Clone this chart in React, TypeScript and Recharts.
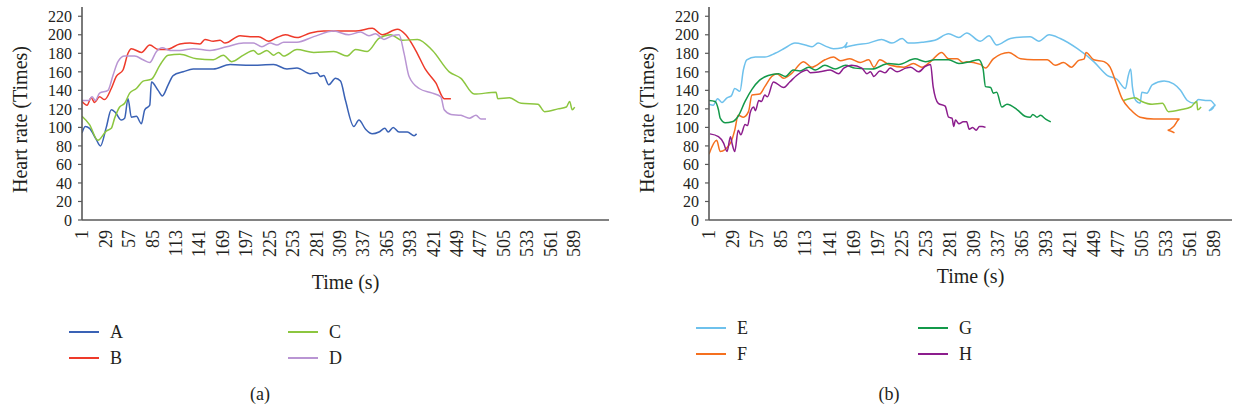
import React from "react";
import { LineChart, Line, XAxis, YAxis } from "recharts";

// shared axis ticks
const xTicks = [1, 29, 57, 85, 113, 141, 169, 197, 225, 253, 281, 309, 337, 365, 393, 421, 449, 477, 505, 533, 561, 589];
const yTicks = [0, 20, 40, 60, 80, 100, 120, 140, 160, 180, 200, 220];

// panel (a) readings: [time, heart rate]
const seriesA = [
  [1, 94], [5, 101], [10, 99], [18, 87], [23, 80], [30, 100], [36, 119], [41, 116], [48, 108], [52, 110],
  [56, 131], [60, 111], [66, 112], [72, 104], [76, 119], [82, 124], [84, 149], [92, 140], [97, 134], [104, 146],
  [110, 156], [122, 160], [134, 163], [158, 163], [178, 168], [202, 167], [230, 168], [246, 163], [258, 164],
  [274, 158], [282, 159], [286, 155], [290, 156], [296, 146], [304, 153], [310, 150], [316, 129], [326, 101],
  [332, 108], [340, 98], [348, 93], [356, 95], [363, 99], [367, 95], [373, 100], [380, 95], [390, 95], [398, 91], [401, 93],
];
const seriesB = [
  [1, 128], [7, 124], [12, 132], [16, 127], [22, 133], [28, 130], [36, 142], [42, 155], [50, 162], [56, 180],
  [60, 185], [72, 181], [82, 189], [92, 184], [102, 184], [118, 190], [130, 191], [142, 190], [148, 195], [158, 193],
  [166, 194], [172, 191], [190, 199], [202, 198], [212, 198], [224, 193], [234, 197], [244, 200], [258, 197],
  [274, 202], [290, 204], [314, 204], [328, 204], [348, 207], [360, 200], [378, 206], [388, 200], [400, 183],
  [412, 162], [424, 148], [434, 131], [442, 131],
];
const seriesC = [
  [1, 112], [10, 103], [20, 86], [30, 96], [36, 99], [40, 110], [46, 122], [52, 126], [58, 137], [66, 142],
  [74, 150], [84, 152], [94, 167], [104, 178], [118, 179], [138, 174], [158, 173], [170, 178], [180, 171],
  [194, 178], [206, 183], [212, 179], [222, 183], [230, 178], [236, 181], [242, 177], [258, 184], [278, 181],
  [302, 182], [318, 177], [328, 184], [342, 182], [356, 196], [370, 200], [384, 194], [402, 195], [420, 183],
  [440, 160], [454, 153], [470, 136], [496, 138], [498, 131], [512, 132], [526, 126], [546, 125], [554, 117],
  [570, 120], [580, 122], [584, 128], [587, 119], [590, 122],
];
const seriesD = [
  [1, 129], [9, 129], [13, 133], [17, 129], [22, 137], [32, 140], [38, 156], [44, 171], [52, 177], [64, 177],
  [74, 173], [82, 170], [90, 182], [97, 186], [106, 183], [118, 183], [134, 185], [154, 183], [174, 187],
  [194, 191], [206, 191], [216, 187], [226, 191], [234, 189], [242, 192], [258, 192], [278, 198], [302, 204],
  [320, 200], [334, 203], [344, 199], [352, 201], [362, 195], [372, 199], [380, 200], [386, 180], [392, 155],
  [404, 142], [420, 137], [430, 133], [434, 119], [442, 114], [454, 113], [464, 110], [472, 113], [478, 109], [484, 109],
];

// panel (b) readings
const seriesE = [
  [1, 125], [6, 124], [11, 131], [16, 127], [22, 132], [27, 134], [31, 142], [37, 139], [41, 162], [45, 173],
  [55, 176], [66, 176], [78, 180], [90, 186], [101, 191], [113, 189], [121, 187], [128, 191], [136, 188],
  [146, 185], [156, 186], [162, 192], [159, 186], [171, 189], [187, 191], [202, 195], [214, 191], [226, 196],
  [233, 191], [249, 192], [264, 194], [280, 201], [292, 197], [301, 202], [317, 193], [327, 199], [336, 189],
  [352, 196], [375, 198], [385, 193], [397, 200], [410, 196], [430, 185], [449, 171], [465, 156], [476, 152],
  [486, 142], [489, 155], [492, 163], [494, 144], [498, 129], [503, 126], [505, 138], [511, 137], [517, 146],
  [531, 150], [542, 147], [550, 140], [558, 129], [566, 126], [571, 130], [579, 129], [585, 129], [591, 124],
  [583, 118], [588, 121], [590, 125],
];
const seriesF = [
  [1, 71], [10, 86], [14, 74], [26, 83], [31, 97], [35, 113], [41, 111], [47, 117], [51, 135], [60, 136],
  [66, 144], [74, 155], [80, 158], [88, 153], [97, 158], [111, 171], [121, 165], [136, 173], [146, 176],
  [154, 172], [165, 174], [177, 170], [187, 173], [193, 165], [200, 173], [212, 167], [228, 165], [239, 169],
  [249, 165], [259, 171], [272, 181], [280, 174], [290, 174], [297, 170], [301, 171], [317, 168], [323, 164],
  [332, 174], [350, 181], [364, 174], [379, 173], [395, 173], [404, 167], [414, 170], [423, 165], [431, 172],
  [438, 174], [440, 181], [449, 173], [461, 171], [468, 165], [474, 151], [482, 131], [492, 119], [503, 111],
  [519, 109], [535, 109], [549, 109], [542, 101], [535, 97], [543, 94],
];
const seriesG = [
  [1, 129], [8, 128], [12, 119], [14, 110], [20, 105], [28, 106], [35, 112], [43, 128], [51, 141], [60, 151],
  [70, 156], [82, 158], [90, 155], [99, 162], [107, 161], [117, 165], [125, 162], [136, 167], [148, 163],
  [160, 167], [171, 164], [191, 163], [210, 169], [222, 168], [241, 174], [253, 171], [264, 173], [280, 173],
  [292, 169], [305, 171], [315, 173], [320, 164], [323, 144], [329, 143], [332, 137], [336, 138], [342, 122],
  [348, 125], [360, 119], [369, 112], [375, 111], [378, 114], [383, 111], [387, 113], [393, 109], [399, 106],
];
const seriesH = [
  [2, 93], [12, 90], [18, 83], [22, 74], [26, 90], [28, 82], [31, 74], [35, 97], [38, 92], [43, 103], [46, 102],
  [49, 116], [53, 122], [55, 118], [59, 129], [62, 128], [66, 135], [69, 133], [76, 149], [88, 143], [95, 149],
  [103, 156], [109, 160], [115, 162], [119, 159], [130, 160], [142, 162], [152, 158], [158, 164], [167, 167],
  [179, 164], [185, 158], [189, 160], [193, 155], [200, 161], [206, 159], [212, 164], [220, 160], [230, 164],
  [236, 165], [245, 160], [253, 166], [259, 168], [262, 144], [268, 126], [276, 123], [280, 111], [284, 110],
  [286, 101], [288, 108], [292, 104], [297, 106], [301, 106], [304, 98], [308, 100], [312, 97], [316, 101],
  [319, 101], [323, 100],
];
// stray unlabeled trace in panel (b)
const seriesExtra = [
  [484, 129], [497, 132], [505, 128], [517, 125], [529, 126], [536, 117], [550, 119], [562, 122], [569, 128], [570, 119], [574, 122],
];

const panelA = [
  { name: "A", color: "#3a62b5", data: seriesA },
  { name: "B", color: "#ee3a2a", data: seriesB },
  { name: "C", color: "#8cc63f", data: seriesC },
  { name: "D", color: "#b995d3", data: seriesD },
];
const panelB = [
  { name: "E", color: "#6ec1ec", data: seriesE },
  { name: "F", color: "#f5701f", data: seriesF },
  { name: "G", color: "#13994a", data: seriesG },
  { name: "H", color: "#8c1d8d", data: seriesH },
];

const FONT = "'Liberation Serif', 'Times New Roman', serif";
const INK = "#231f20";
const AXIS = "#595959";

const toPoints = (pairs: number[][]) => pairs.map(([t, v]) => ({ t, v }));

const XTick = (props: any) => {
  const { x, y, payload } = props;
  return (
    <text
      x={0}
      y={0}
      transform={`translate(${x},${y}) rotate(-90)`}
      textAnchor="end"
      dy="0.35em"
      fontSize={18}
      fontFamily={FONT}
      fill={INK}
    >
      {payload.value}
    </text>
  );
};

const YTitle = (props: any) => {
  const { viewBox, shift } = props;
  const cx = viewBox.x + shift;
  const cy = viewBox.y + viewBox.height / 2 + 6;
  return (
    <text
      x={cx}
      y={cy}
      transform={`rotate(-90, ${cx}, ${cy})`}
      textAnchor="middle"
      dominantBaseline="central"
      fontSize={20}
      fontFamily={FONT}
      fill={INK}
    >
      Heart rate (Times)
    </text>
  );
};

type Series = { name: string; color: string; data: number[][] };

function Panel(props: {
  series: Series[];
  extra?: Series[];
  width: number;
  yAxisWidth: number;
  right: number;
  xMax: number;
  titleShift: number;
  timeOffset: number;
}) {
  const { series, extra = [], width, yAxisWidth, right, xMax, titleShift, timeOffset } = props;
  return (
    <LineChart width={width} height={300} margin={{ top: 7, right, left: 0, bottom: 0 }}>
      <XAxis
        type="number"
        dataKey="t"
        domain={[1, xMax]}
        ticks={xTicks}
        interval={0}
        height={80}
        tickLine={false}
        tickSize={6}
        tickMargin={4}
        axisLine={{ stroke: AXIS, strokeWidth: 1.6 }}
        tick={<XTick />}
        allowDataOverflow
        label={{
          value: "Time (s)",
          position: "insideBottom",
          offset: timeOffset,
          style: { fontSize: 20, fontFamily: FONT, fill: INK },
        }}
      />
      <YAxis
        type="number"
        domain={[0, 230]}
        ticks={yTicks}
        interval={0}
        width={yAxisWidth}
        tickSize={4}
        tickMargin={6}
        tickLine={{ stroke: AXIS, strokeWidth: 1.2 }}
        axisLine={{ stroke: AXIS, strokeWidth: 1.6 }}
        tick={{ fontSize: 16, fontFamily: FONT, fill: INK }}
        label={<YTitle shift={titleShift} />}
      />
      {[...series, ...extra].map((s) => (
        <Line
          key={s.name}
          data={toPoints(s.data)}
          dataKey="v"
          name={s.name}
          type="monotone"
          stroke={s.color}
          strokeWidth={1.5}
          dot={false}
          activeDot={false}
          isAnimationActive={false}
        />
      ))}
    </LineChart>
  );
}

function LegendBlock(props: { series: Series[]; cols: number[]; rows: number[] }) {
  const { series, cols, rows } = props;
  return (
    <>
      {series.map((s, i) => (
        <div
          key={s.name}
          style={{
            position: "absolute",
            left: cols[Math.floor(i / 2)],
            top: rows[i % 2] - 12,
            height: 24,
            display: "flex",
            alignItems: "center",
            fontFamily: FONT,
            fontSize: 18,
            color: INK,
          }}
        >
          <span style={{ display: "inline-block", width: 30, height: 2, background: s.color, marginRight: 11 }} />
          <span>{s.name}</span>
        </div>
      ))}
    </>
  );
}

export default function App() {
  return (
    <div style={{ position: "absolute", left: 0, top: 0, width: 1233, height: 411, background: "#fff" }}>
      <div style={{ position: "absolute", left: 0, top: 0 }}>
        <Panel series={panelA} width={620} yAxisWidth={82} right={11} xMax={631} titleShift={20} timeOffset={11} />
      </div>
      <div style={{ position: "absolute", left: 620, top: 0 }}>
        <Panel
          series={panelB}
          extra={[{ name: "extra", color: "#8cc63f", data: seriesExtra }]}
          width={613}
          yAxisWidth={89}
          right={1}
          xMax={610}
          titleShift={27}
          timeOffset={17}
        />
      </div>
      <LegendBlock series={panelA} cols={[69, 288]} rows={[332, 358]} />
      <LegendBlock series={panelB} cols={[696, 918]} rows={[328, 354]} />
      <div style={{ position: "absolute", left: 240, width: 40, top: 384, textAlign: "center", fontFamily: FONT, fontSize: 18, color: INK }}>
        (a)
      </div>
      <div style={{ position: "absolute", left: 869, width: 40, top: 384, textAlign: "center", fontFamily: FONT, fontSize: 18, color: INK }}>
        (b)
      </div>
    </div>
  );
}
